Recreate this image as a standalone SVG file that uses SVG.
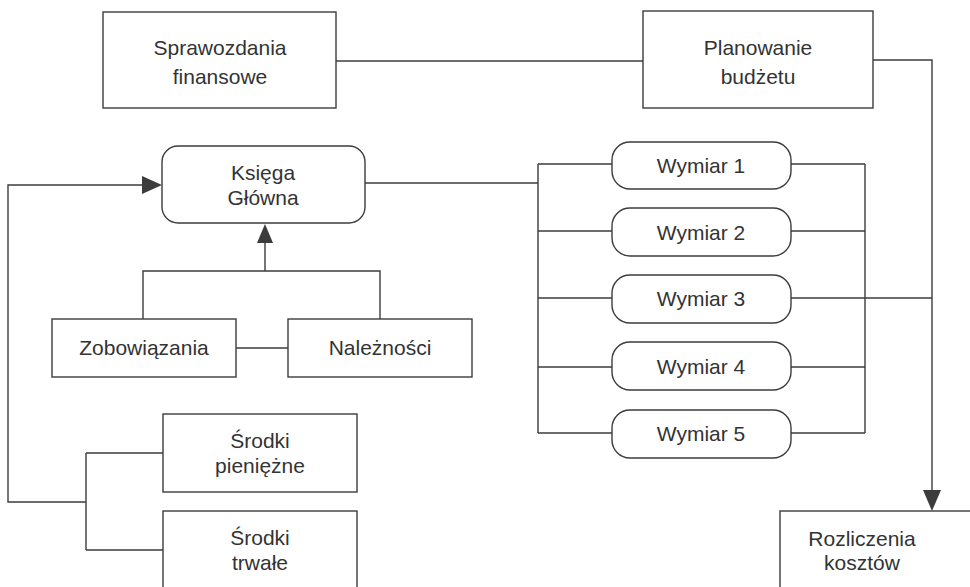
<svg xmlns="http://www.w3.org/2000/svg" width="970" height="587" viewBox="0 0 970 587">
<style>
.box{fill:#fff;stroke:#3c3c3c;stroke-width:1.4}
.ln{fill:none;stroke:#3c3c3c;stroke-width:1.4}
.ah{fill:#3c3c3c;stroke:none}
text{font-family:"Liberation Sans",Arial,sans-serif;font-size:21px;fill:#333;text-anchor:middle}
</style>
<rect width="970" height="587" fill="#fff"/>
<g id="connectors">
<path class="ln" d="M336,61 H643"/>
<path class="ln" d="M873,60 H932 V492"/>
<polygon class="ah" points="923,490 941,490 932,511"/>
<path class="ln" d="M365,183 H538"/>
<path class="ln" d="M538,164 V433"/>
<path class="ln" d="M538,164 H612 M538,231 H612 M538,298 H612 M538,367 H612 M538,433 H612"/>
<path class="ln" d="M865,164 V433"/>
<path class="ln" d="M791,164 H865 M791,231 H865 M791,367 H865 M791,433 H865"/>
<path class="ln" d="M791,298 H932"/>
<path class="ln" d="M144,185 H8 V502 H86"/>
<polygon class="ah" points="142,176 142,194 162,185"/>
<path class="ln" d="M86,453 V550 M86,453 H163 M86,550 H163"/>
<path class="ln" d="M265,241 V271 M143,319 V271 H380 V319"/>
<polygon class="ah" points="257,243 273,243 265,224"/>
<path class="ln" d="M236,348 H288"/>
</g>
<g id="sprawozdania">
<rect class="box" x="103" y="12" width="233" height="96"/>
<text x="220" y="55">Sprawozdania</text>
<text x="220" y="84">finansowe</text>
</g>
<g id="planowanie">
<rect class="box" x="643" y="11" width="230" height="97"/>
<text x="758" y="55">Planowanie</text>
<text x="758" y="84">budżetu</text>
</g>
<g id="ksiega">
<rect class="box" x="162" y="146" width="203" height="77" rx="16"/>
<text x="263" y="180">Księga</text>
<text x="263" y="205">Główna</text>
</g>
<g id="wymiar1">
<rect class="box" x="612" y="142" width="179" height="47" rx="18"/>
<text x="701" y="173">Wymiar 1</text>
</g>
<g id="wymiar2">
<rect class="box" x="612" y="208" width="179" height="48" rx="18"/>
<text x="701" y="240">Wymiar 2</text>
</g>
<g id="wymiar3">
<rect class="box" x="612" y="275" width="179" height="48" rx="18"/>
<text x="701" y="306">Wymiar 3</text>
</g>
<g id="wymiar4">
<rect class="box" x="612" y="342" width="179" height="48" rx="18"/>
<text x="701" y="374">Wymiar 4</text>
</g>
<g id="wymiar5">
<rect class="box" x="612" y="410" width="179" height="48" rx="18"/>
<text x="701" y="441">Wymiar 5</text>
</g>
<g id="zobowiazania">
<rect class="box" x="52" y="319" width="184" height="58"/>
<text x="144" y="355">Zobowiązania</text>
</g>
<g id="naleznosci">
<rect class="box" x="288" y="319" width="184" height="58"/>
<text x="380" y="355">Należności</text>
</g>
<g id="srodki-pieniezne">
<rect class="box" x="163" y="414" width="194" height="78"/>
<text x="260" y="448">Środki</text>
<text x="260" y="473">pieniężne</text>
</g>
<g id="srodki-trwale">
<rect class="box" x="163" y="511" width="194" height="90"/>
<text x="260" y="545">Środki</text>
<text x="260" y="570">trwałe</text>
</g>
<g id="rozliczenia">
<rect class="box" x="780" y="511" width="200" height="90"/>
<text x="862" y="546">Rozliczenia</text>
<text x="862" y="570">kosztów</text>
</g>
</svg>
